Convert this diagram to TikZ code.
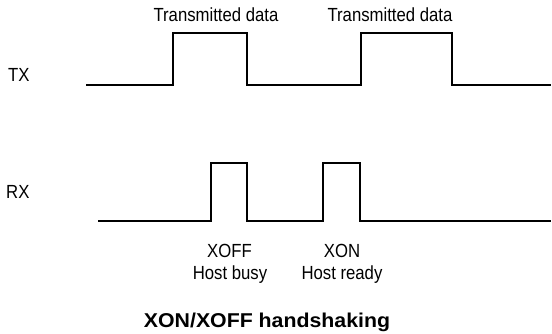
\documentclass[tikz,border=0pt]{standalone}
\usepackage{fontspec}
\setmainfont{Liberation Sans}
\newcommand{\narrowtxt}[1]{\scalebox{0.88}[1]{#1}}
\begin{document}
\begin{tikzpicture}[x=1pt,y=1pt,
  wave/.style={line width=1.2pt, line join=miter},
  lbl/.style={font=\fontsize{19}{21}\selectfont, inner sep=0pt, anchor=base},
  ttl/.style={font=\fontsize{20}{22}\bfseries\selectfont, inner sep=0pt, anchor=base}]
\useasboundingbox (0,0) rectangle (552,334);
% TX waveform
\coordinate (tx0) at (86,249);
\coordinate (tx1) at (551,249);
\draw[wave] (tx0) -- (173,249) -- (173,301) -- (247,301) -- (247,249)
  -- (361,249) -- (361,301) -- (452,301) -- (452,249) -- (tx1);
% RX waveform
\coordinate (rx0) at (98,113);
\coordinate (rx1) at (551,113);
\draw[wave] (rx0) -- (211,113) -- (211,171) -- (247,171) -- (247,113)
  -- (323,113) -- (323,171) -- (360,171) -- (360,113) -- (rx1);
% labels
\node[lbl, anchor=base west] (tx) at (8,252) {\narrowtxt{TX}};
\node[lbl, anchor=base west] (rx) at (6,135) {\narrowtxt{RX}};
\node[lbl] (td1) at (216,312) {\narrowtxt{Transmitted data}};
\node[lbl] (td2) at (390,312) {\narrowtxt{Transmitted data}};
\node[lbl] (xoff) at (229.5,76) {\narrowtxt{XOFF}};
\node[lbl] (busy) at (230,54) {\narrowtxt{Host busy}};
\node[lbl] (xon) at (342,76) {\narrowtxt{XON}};
\node[lbl] (ready) at (342,54) {\narrowtxt{Host ready}};
\node[ttl] (title) at (267,6) {\scalebox{1.065}[1]{XON/XOFF handshaking}};
\end{tikzpicture}
\end{document}
